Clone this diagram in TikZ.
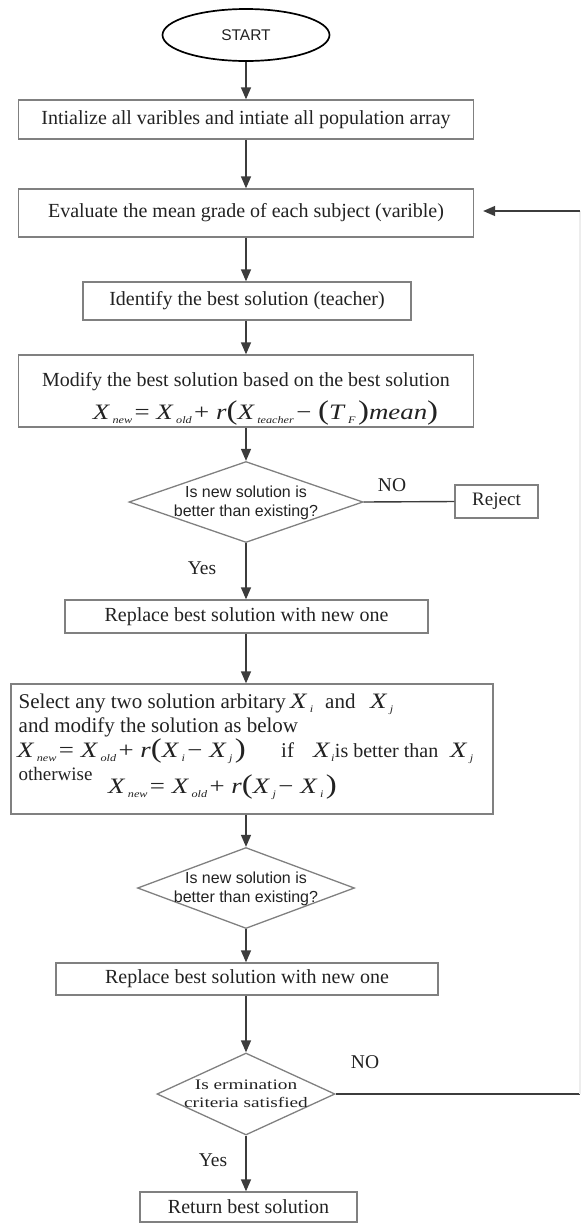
\documentclass[tikz,border=0pt]{standalone}
\usepackage{fontspec}
\setmainfont{Liberation Serif}
\newfontfamily\arialf{Liberation Sans}
\usetikzlibrary{shapes.geometric,arrows.meta}
\definecolor{boxc}{HTML}{808080}
\definecolor{linec}{HTML}{3C3C3C}
\definecolor{txt}{HTML}{222222}
\definecolor{faintc}{HTML}{EDEDED}
\newcommand\vx[2]{\textit{#1}\kern2pt\raisebox{-0.45ex}{\fontsize{10}{10}\selectfont\textit{#2}}\kern2pt}
\newcommand\bp[1]{{\fontsize{27}{27}\selectfont\raisebox{-0.05ex}{#1}}}
\newcommand\fm{\fontsize{22}{25}\selectfont}
\newcommand\fml[1]{\scalebox{1.22}[1]{\fm #1}}
\begin{document}
\begin{tikzpicture}[x=1pt,y=-1pt,
  box/.style={draw=boxc, line width=1.3pt, rectangle, inner sep=0pt, text=txt,
    font=\fontsize{20}{23}\selectfont},
  term/.style={draw=black, line width=1.7pt, ellipse, inner sep=0pt, text=txt,
    font=\arialf\fontsize{15.5}{17}\selectfont},
  decision/.style={draw=boxc, line width=1.3pt, diamond, inner sep=0pt},
  dtext/.style={text=txt, align=center, inner sep=0pt,
    font=\arialf\fontsize{16}{19}\selectfont},
  lbl/.style={text=txt, inner sep=0pt, font=\fontsize{19.5}{22}\selectfont},
  ltext/.style={text=txt, inner sep=0pt, anchor=base west, font=\fontsize{21}{24}\selectfont},
  arrow/.style={draw=linec, line width=1.4pt, -{Triangle[length=12pt,width=10pt]}},
  line/.style={draw=linec, line width=1.4pt},
  faint/.style={draw=faintc, line width=1.2pt}
]
\useasboundingbox (0,0) rectangle (581,1224);

\node[term, minimum width=167pt, minimum height=52pt] (start) at (246,35) {START};
\node[box, minimum width=455pt, minimum height=39pt] (init) at (246,119.5)
  {Intialize all varibles and intiate all population array};
\node[box, minimum width=455pt, minimum height=48pt] (eval) at (246,213)
  {Evaluate the mean grade of each subject (varible)};
\node[box, minimum width=328pt, minimum height=38pt] (ident) at (247,301)
  {Identify the best solution (teacher)};
\node[box, minimum width=455pt, minimum height=72pt] (modify) at (246,391) {};
\node[lbl, anchor=base, font=\fontsize{20}{23}\selectfont] (modt1) at (246,386)
  {Modify the best solution based on the best solution};
\node[lbl, anchor=base] (modt2) at (265.5,419)
  {\fml{\vx{X}{new}= \vx{X}{old}+ \textit{r}\bp{(}\vx{X}{teacher}− \bp{(}\vx{T}{F}\bp{)}\textit{mean}\bp{)}}};

\node[decision, minimum width=234pt, minimum height=81pt] (d1) at (246,502) {};
\node[dtext] (d1t) at (246,502.5) {Is new solution is\\better than existing?};
\node[box, minimum width=83pt, minimum height=33pt, font=\fontsize{19}{22}\selectfont] (reject) at (496.5,501.5) {Reject};
\node[lbl] (no1) at (392,485) {NO};
\node[lbl] (yes1) at (202,568) {Yes};

\node[box, minimum width=363pt, minimum height=33pt] (rep1) at (246.5,616.5)
  {Replace best solution with new one};

\node[box, minimum width=482pt, minimum height=130pt] (select) at (252,749) {};
\node[ltext] (s1) at (18.5,708) {Select any two solution arbitary};
\node[ltext] (s1x) at (290,708) {\fml{\vx{X}{i}}};
\node[ltext] (s1and) at (325,708) {and};
\node[ltext] (s1xj) at (370,708) {\fml{\vx{X}{j}}};
\node[ltext] (s2) at (18.5,732) {and modify the solution as below};
\node[ltext] (s3) at (17,757)
  {\fml{\vx{X}{new}= \vx{X}{old}+ \textit{r}\bp{(}\vx{X}{i}− \vx{X}{j}\bp{)}}};
\node[ltext] (s3if) at (281,757) {if};
\node[ltext] (s3b) at (313,757) {\fml{\textit{X}\kern0.5pt\raisebox{-0.45ex}{\fontsize{10}{10}\selectfont\textit{i}}}\kern0.5pt{\fontsize{20}{23}\selectfont is better than}};
\node[ltext] (s3xj) at (450,757) {\fml{\vx{X}{j}}};
\node[ltext, font=\fontsize{19}{22}\selectfont] (s4) at (18.5,780) {otherwise};
\node[ltext] (s4f) at (108,793)
  {\fml{\vx{X}{new}= \vx{X}{old}+ \textit{r}\bp{(}\vx{X}{j}− \vx{X}{i}\bp{)}}};

\node[decision, minimum width=217pt, minimum height=81pt] (d2) at (246,888) {};
\node[dtext] (d2t) at (246,889) {Is new solution is\\better than existing?};

\node[box, minimum width=382pt, minimum height=32pt] (rep2) at (247,979)
  {Replace best solution with new one};

\node[decision, minimum width=178pt, minimum height=82pt] (d3) at (246,1094) {};
\node[dtext, font=\fontsize{14.5}{18}\selectfont] (d3t) at (246,1094)
  {\scalebox{1.33}[1]{Is ermination}\\\scalebox{1.33}[1]{criteria satisfied}};
\node[lbl] (no3) at (365,1062) {NO};
\node[lbl] (yes3) at (213,1160) {Yes};

\node[box, minimum width=217pt, minimum height=30pt] (ret) at (248.5,1207)
  {Return best solution};

\coordinate (fbB) at (580,1094);
\coordinate (fbT) at (580,211);

\draw[arrow] (start) -- (init);
\draw[arrow] (init) -- (eval);
\draw[arrow] (eval.south) -- (ident.north -| eval.south);
\draw[arrow] (ident.south -| eval.south) -- (modify.north);
\draw[arrow] (modify) -- (d1);
\draw[line] (d1.east) -- (reject.west);
\draw[arrow] (d1.south) -- (rep1.north -| d1.south);
\draw[arrow] (rep1.south -| d1.south) -- (select.north -| d1.south);
\draw[arrow] (select.south -| d1.south) -- (d2.north);
\draw[arrow] (d2.south) -- (rep2.north -| d2.south);
\draw[arrow] (rep2.south -| d2.south) -- (d3.north);
\draw[arrow] (d3.south) -- (ret.north -| d3.south);
\draw[line] (d3.east) -- (fbB);
\draw[faint] (fbB) -- (fbT);
\draw[arrow, shorten >=9pt] (fbT) -- (eval.east |- fbT);
\end{tikzpicture}
\end{document}
